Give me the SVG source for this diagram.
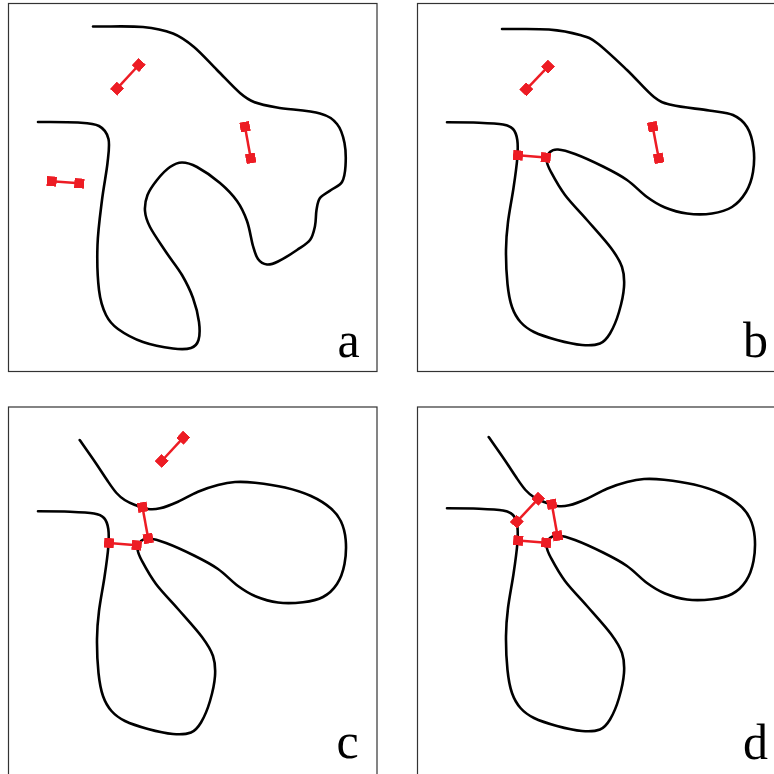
<svg xmlns="http://www.w3.org/2000/svg" xmlns:xlink="http://www.w3.org/1999/xlink" width="774" height="774" viewBox="0 0 774 774">
<style>
.frame{fill:none;stroke:#333;stroke-width:1.2}
.curve{fill:none;stroke:#000;stroke-width:2.6;stroke-linecap:round;stroke-linejoin:round}
.db{stroke:#ed1c24;stroke-width:2.5;marker-start:url(#sq);marker-end:url(#sq)}
.lbl{font-family:"Liberation Serif","Times New Roman",serif;font-size:50px;fill:#000;text-anchor:middle}
</style>
<defs>
<marker id="sq" viewBox="-5 -5 10 10" markerWidth="10" markerHeight="10" markerUnits="userSpaceOnUse" orient="auto"><rect x="-5" y="-5" width="10" height="10" fill="#ed1c24"/></marker>
<path id="curveB" class="curve" d="M38,122.3 S60.7,122.3 70,122.7 S88.3,123.5 94,124.5 S101.6,126.4 104,129 S107.6,135.2 108.3,140 S108.9,150 108.3,158 S106.1,177.3 104.5,188 S100.3,211.7 99,222 S97.1,239.7 97,250 S97.5,274.5 98.5,284 S100.8,300.7 103,307 S107.8,317.8 111.5,322 S118.9,329 125,332 S140,337.8 148,340 S165.8,344.4 173,345 S186.3,345.4 191,343.5 S197.8,338.8 201,333.5 S207.7,319.8 210,312 S214.5,294.5 215,287 S215.2,273.5 213,267 S207.8,255.8 202,248 S185.7,228.8 178,220 S162,203 156,195 S145.1,177.8 142,172 S137.7,163.3 137.5,160 S139.1,153.8 141,152 S144.8,149.2 149,149.5 S158.5,151.2 166,154 S185.3,162.2 194,166.5 S210.7,174.9 218,180 S231.7,192.4 238,197 S249.3,204.8 256,207.5 S270.2,212.5 278,213.5 S295.5,214.6 303,213.5 S317.3,210.6 323,207 S333.5,197.8 337,192 S342.8,179.3 344,172 S345.5,155.5 344.5,148 S341.4,132.5 338,127 S330.3,117.8 324,115 S310.2,112.2 300,110.5 S272.2,107.3 263,105 S252.5,102.8 245,97 S227.5,79 218,70 S195.8,48.8 188,43 S179,37.3 171,35 S153,30.5 140,29.5 S108.7,29.2 93,29"/>
<path id="curveD" class="curve" d="M38,122.3 S60.7,122.3 70,122.7 S88.3,123.5 94,124.5 S101.6,126.4 104,129 S107.6,135.2 108.3,140 S108.9,150 108.3,158 S106.1,177.3 104.5,188 S100.3,211.7 99,222 S97.1,239.7 97,250 S97.5,274.5 98.5,284 S100.8,300.7 103,307 S107.8,317.8 111.5,322 S118.9,329 125,332 S140,337.8 148,340 S165.8,344.4 173,345 S186.3,345.4 191,343.5 S197.8,338.8 201,333.5 S207.7,319.8 210,312 S214.5,294.5 215,287 S215.2,273.5 213,267 S207.8,255.8 202,248 S185.7,228.8 178,220 S162,203 156,195 S145.1,177.8 142,172 S137.7,163.3 137.5,160 S139.1,153.8 141,152 S144.8,149.2 149,149.5 S158.5,151.2 166,154 S185.3,162.2 194,166.5 S210.7,174.9 218,180 S231.7,192.4 238,197 S249.3,204.8 256,207.5 S270.2,212.5 278,213.5 S295.5,214.1 303,213.2 S317.3,211 323,208 S333.4,200.5 337,195 S343.1,182.3 344.5,175 S346.3,158.1 345.7,151 S343.5,137.8 341,132.5 S336,123.8 331,119.5 S318.7,110.5 311,107 S294.3,100.7 285,98.5 S263.3,94.6 255,93.7 S241.2,92.6 235,93 S224.2,94.4 218,96 S204.7,99.9 198,102.7 S184.3,109.9 178,112.7 S165,118.1 160,119.3 S152.2,120.6 148,120 S138.9,117.5 135,116 S127.8,113 124.7,111 S119.3,107.1 116.5,104 S111.6,97.8 108,92.5 S99.4,79.4 94.7,72.5 S84.7,58.2 79.7,51"/>
</defs>
<rect width="774" height="774" fill="#fff"/>

<g id="panel-a">
<rect class="frame" x="8.5" y="3.5" width="368.5" height="368"/>
<path class="curve" d="M38,122 S67.8,121.8 78,122.5 S93.9,123.3 99,126 S107.1,132.8 108.5,139 S108.6,152.8 107.5,163 S103.7,186.3 102,200 S98,230 97.5,245 S97.6,278.3 99,290 S102.8,308.5 106,315 S111.8,324.5 118,329 S133.8,338.8 143,342 S165,347.5 173,348.5 S186.8,349.4 191,348 S197.2,344.3 198.5,340 S199.9,329 199,322 S195.8,305.8 193,298 S186.5,282.7 182,275 S171.3,260 166,252 S153.5,233.8 150,227 S145.4,216.3 145,211 S145.5,200.2 147.5,195 S153.3,184.7 157,180 S165.8,169.9 170,167 S177.5,162.5 182,162.5 S190.7,163.6 197,167 S213.3,177.3 220,183 S232.5,194.7 237,201 S244.3,213.5 247,221 S251.2,239.7 253,246 S255.7,255.9 258,259 S263.7,264.1 267,264.5 S273,263.9 278,261.5 S291.7,253.6 297,250 S307,244 310,240 S313.9,231 315,226 S315.7,214.7 316.5,210 S317.6,201.3 320,198 S327.3,192.7 331,190 S339.6,186 342,182 S345.1,172.5 345.5,166 S345.9,150 344.5,143 S341.1,128.9 337,124 S330,116.3 320,113.5 S288,109.4 277,107.5 S260.2,104.4 254,102 S246.2,98.3 240,93 S224.7,77.7 217,70 S201.3,53.1 194,47 S181.5,36.8 173,33.5 S156.3,28.2 143,27 S109.7,26.7 93,26.5"/>
<text class="lbl" x="348.5" y="357">a</text>
</g>

<g id="panel-b">
<rect class="frame" x="417.5" y="3.5" width="369" height="368"/>
<use xlink:href="#curveB" href="#curveB" transform="translate(409,0)"/>
<text class="lbl" x="755.5" y="357">b</text>
</g>

<g id="panel-c">
<rect class="frame" x="8.5" y="407" width="368.5" height="369"/>
<use xlink:href="#curveD" href="#curveD" transform="translate(0,389)"/>
<text class="lbl" x="347.5" y="758">c</text>
</g>

<g id="panel-d">
<rect class="frame" x="417.5" y="407" width="369" height="369"/>
<use xlink:href="#curveD" href="#curveD" transform="translate(409,386)"/>
<text class="lbl" x="755.5" y="758.5">d</text>
</g>

<g id="connectors">
<line class="db" x1="117" y1="88.7" x2="138.8" y2="65"/>
<line class="db" x1="51.7" y1="181.3" x2="79.3" y2="183.3"/>
<line class="db" x1="245" y1="126.7" x2="250.7" y2="158.3"/>

<line class="db" x1="526.3" y1="89.3" x2="548" y2="66.7"/>
<line class="db" x1="518" y1="155.3" x2="545.8" y2="157.5"/>
<line class="db" x1="652.7" y1="126.7" x2="658.7" y2="158.3"/>

<line class="db" x1="161.7" y1="461" x2="183.3" y2="437.7"/>
<line class="db" x1="109" y1="543" x2="136.7" y2="545.3"/>
<line class="db" x1="142.5" y1="507.2" x2="148.2" y2="538.5"/>

<line class="db" x1="516.8" y1="521.7" x2="538.2" y2="498.8"/>
<line class="db" x1="551.8" y1="504.2" x2="557.5" y2="535.8"/>
<line class="db" x1="518.2" y1="540.5" x2="546.2" y2="542.7"/>
</g>
</svg>
